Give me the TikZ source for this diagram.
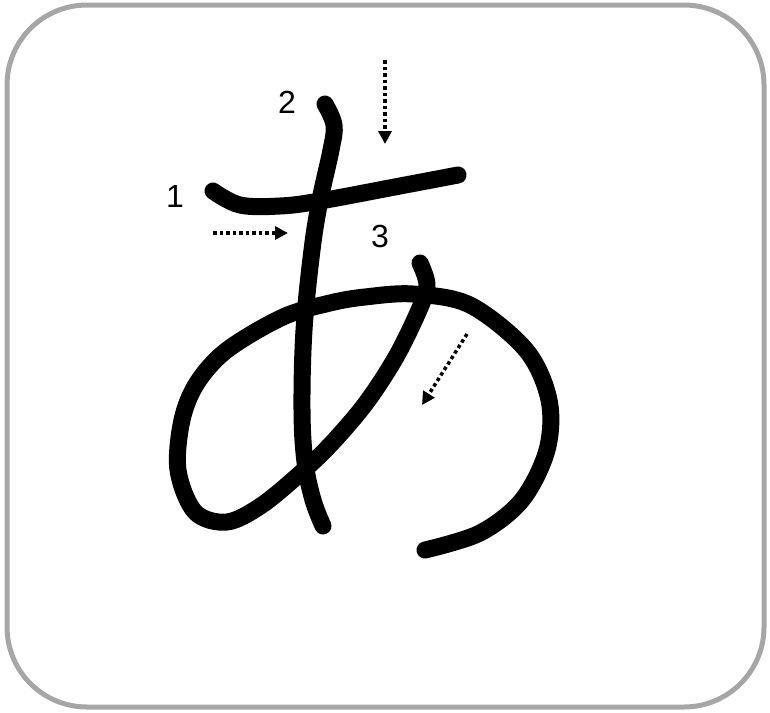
\documentclass[tikz,border=0pt]{standalone}
\usepackage{fontspec}
\setmainfont{Liberation Sans}
\usetikzlibrary{arrows.meta}
\definecolor{frame}{HTML}{A6A6A6}
\tikzset{
  kana/.style={line width=17pt, line cap=round, line join=round},
  hint/.style={line width=3.5pt, dash pattern=on 3.5pt off 3pt, -{Triangle[length=13pt,width=13pt]}},
  num/.style={font=\fontsize{32}{32}\selectfont, inner sep=0pt}
}
\begin{document}
\begin{tikzpicture}[x=1pt,y=-1pt]
\useasboundingbox (0,0) rectangle (770,712);
\draw[frame, line width=5pt, rounded corners=80pt] (7,5) rectangle (764,707);
% stroke 1
\draw[kana] plot[smooth, tension=0.6] coordinates {(213,191) (240,205) (280,206) (320,201) (400,186) (458,175)};
% stroke 2
\draw[kana] plot[smooth, tension=0.6] coordinates {(325,104) (334,125) (331,150) (320,200) (312,250) (304,330) (302,410) (305,462) (313,500) (323,526)};
% stroke 3
\draw[kana] plot[smooth, tension=0.55] coordinates {(420,263) (427,285) (419,310) (396,357) (366,403) (332,443) (303,471) (262,505) (227,522) (195,512) (178,470) (182,420) (197,383) (227,350) (283,317) (330,303) (365,297) (413,294) (470,305) (526,350) (549,400) (547,450) (522,500) (480,533) (425,550)};
% labels
\node[num] (n1) at (175,196) {1};
\node[num] (n2) at (287,102) {2};
\node[num] (n3) at (380,236) {3};
% arrows
\coordinate (a1s) at (213,233); \coordinate (a1e) at (288,233);
\coordinate (a2s) at (385,60);  \coordinate (a2e) at (385,144);
\coordinate (a3s) at (467,334); \coordinate (a3e) at (422,405);
\draw[hint] (a1s) -- (a1e);
\draw[hint] (a2s) -- (a2e);
\draw[hint] (a3s) -- (a3e);
\end{tikzpicture}
\end{document}
